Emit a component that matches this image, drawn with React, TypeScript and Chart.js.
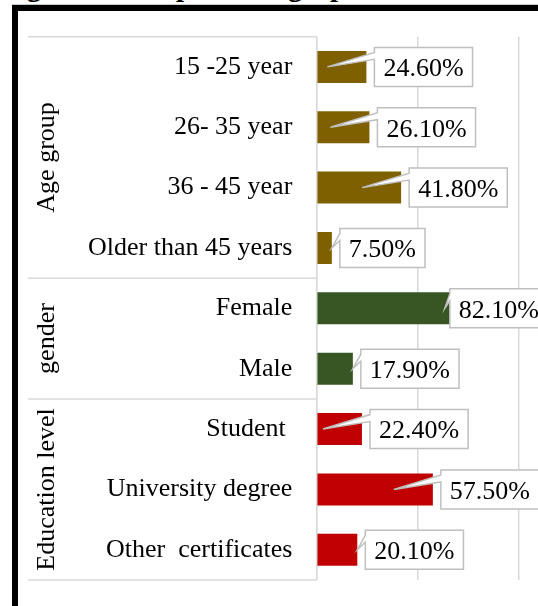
import React, { useEffect, useRef } from "react";
import { Chart, registerables } from "chart.js";

Chart.register(...registerables);

// ---- data ----
const categories = [
  "15 -25 year",
  "26- 35 year",
  "36 - 45 year",
  "Older than 45 years",
  "Female",
  "Male",
  "Student ",
  "University degree",
  "Other  certificates",
];
const values = [24.6, 26.1, 41.8, 7.5, 82.1, 17.9, 22.4, 57.5, 20.1];
const groupNames = ["Age group", "gender", "Education level"];
const groupSizes = [4, 2, 3];
const groupColors = ["#7F6000", "#375623", "#C00000"];
const xTicks = [0, 50, 100];
const titleText = "Figure 1: Sample demographic characteristics";

const FONT = '"Liberation Serif", "Times New Roman", serif';
const FONT_SIZE = 26;

const barColors: string[] = [];
groupSizes.forEach((n, g) => {
  for (let k = 0; k < n; k++) barColors.push(groupColors[g]);
});

const groupPlugin = {
  id: "groups",
  beforeDatasetsDraw(chart: any) {
    const ctx = chart.ctx;
    const y = chart.scales.y;
    const area = chart.chartArea;
    const left = 28;
    const right = area.left;
    const bounds: number[] = [area.top];
    let idx = 0;
    groupSizes.forEach((n) => {
      idx += n;
      bounds.push(
        idx >= categories.length
          ? area.bottom
          : (y.getPixelForTick(idx - 1) + y.getPixelForTick(idx)) / 2
      );
    });
    ctx.save();
    ctx.strokeStyle = "#d9d9d9";
    ctx.lineWidth = 1.5;
    bounds.forEach((b) => {
      ctx.beginPath();
      ctx.moveTo(left, b);
      ctx.lineTo(right, b);
      ctx.stroke();
    });
    ctx.beginPath();
    ctx.moveTo(right, area.top);
    ctx.lineTo(right, area.bottom);
    ctx.stroke();

    ctx.fillStyle = "#000";
    ctx.font = `${FONT_SIZE}px ${FONT}`;
    ctx.textAlign = "center";
    ctx.textBaseline = "alphabetic";
    groupNames.forEach((name, g) => {
      const mid = (bounds[g] + bounds[g + 1]) / 2;
      ctx.save();
      ctx.translate(54, mid);
      ctx.rotate(-Math.PI / 2);
      ctx.fillText(name, 0, 0);
      ctx.restore();
    });
    ctx.restore();
  },
};

const calloutPlugin = {
  id: "callouts",
  afterDatasetsDraw(chart: any) {
    const ctx = chart.ctx;
    const meta = chart.getDatasetMeta(0);
    const limit = chart.width - 12;
    ctx.save();
    ctx.font = `${FONT_SIZE}px ${FONT}`;
    meta.data.forEach((bar: any, i: number) => {
      const text = values[i].toFixed(2) + "%";
      const tw = ctx.measureText(text).width;
      const w = tw + 18;
      const h = 39;
      let bx = bar.x + 8;
      let clamped = false;
      if (bx + w > limit) {
        bx = limit - w;
        clamped = true;
      }
      const by = bar.y - h / 2;
      let tipX = clamped ? bx - 5 : bx - 47;
      if (!clamped && tipX < bar.base + 1) tipX = bar.x;
      const tipY = bar.y;
      ctx.beginPath();
      ctx.moveTo(bx, by);
      ctx.lineTo(bx + w, by);
      ctx.lineTo(bx + w, by + h);
      ctx.lineTo(bx, by + h);
      ctx.lineTo(bx, by + 12);
      ctx.lineTo(tipX, tipY);
      ctx.lineTo(bx, by + 5);
      ctx.closePath();
      ctx.fillStyle = "#fff";
      ctx.fill();
      ctx.strokeStyle = "#bfbfbf";
      ctx.lineWidth = 1.5;
      ctx.stroke();
      ctx.fillStyle = "#000";
      ctx.textAlign = "center";
      ctx.textBaseline = "middle";
      ctx.fillText(text, bx + w / 2, by + h / 2 + 2.5);
    });
    ctx.restore();
  },
};

export default function App() {
  const ref = useRef<HTMLCanvasElement | null>(null);

  useEffect(() => {
    if (!ref.current) return;
    const chart = new Chart(ref.current, {
      type: "bar",
      data: {
        labels: categories,
        datasets: [
          {
            data: values,
            backgroundColor: barColors,
            borderWidth: 0,
            barPercentage: 0.53,
            categoryPercentage: 1,
          },
        ],
      },
      options: {
        indexAxis: "y",
        responsive: false,
        animation: false,
        devicePixelRatio: 1,
        layout: { padding: { top: 36.7, bottom: 26, left: 0, right: 41.3 } },
        plugins: {
          legend: { display: false },
          tooltip: { enabled: false },
          title: { display: false },
        },
        scales: {
          x: {
            type: "linear",
            min: xTicks[0],
            max: xTicks[xTicks.length - 1],
            afterBuildTicks: (s: any) => {
              s.ticks = xTicks.map((v) => ({ value: v }));
            },
            ticks: { display: false },
            grid: { color: "#d9d9d9", lineWidth: 1.5, drawTicks: false },
            border: { display: false },
            afterFit: (s: any) => {
              s.height = 0;
              s.paddingLeft = 0;
              s.paddingRight = 0;
            },
          },
          y: {
            type: "category",
            grid: { display: false, drawTicks: false },
            border: { display: false },
            ticks: {
              color: "#000",
              font: { family: FONT, size: FONT_SIZE },
              padding: 24.4,
              autoSkip: false,
            },
            afterFit: (s: any) => {
              s.width = 316.7;
              s.paddingTop = 0;
              s.paddingBottom = 0;
            },
          },
        },
      } as any,
      plugins: [groupPlugin, calloutPlugin],
    });
    return () => chart.destroy();
  }, []);

  return (
    <div
      style={{
        position: "fixed",
        left: 0,
        top: 0,
        width: 538,
        height: 606,
        overflow: "hidden",
        background: "#fff",
      }}
    >
      <div
        style={{
          position: "absolute",
          left: 1,
          top: -28,
          font: `bold 29px ${FONT}`,
          lineHeight: "29px",
          whiteSpace: "nowrap",
          color: "#000",
        }}
      >
        {titleText}
      </div>
      <div
        style={{
          position: "absolute",
          left: 12,
          top: 4,
          width: 700,
          height: 1,
          background: "#c8c8c8",
        }}
      />
      <div
        style={{
          position: "absolute",
          left: 12,
          top: 5,
          width: 700,
          height: 800,
          borderLeft: "6px solid #000",
          borderTop: "6px solid #000",
        }}
      />
      <canvas
        ref={ref}
        width={560}
        height={606}
        style={{ position: "absolute", left: 0, top: 0, width: 560, height: 606 }}
      />
    </div>
  );
}
